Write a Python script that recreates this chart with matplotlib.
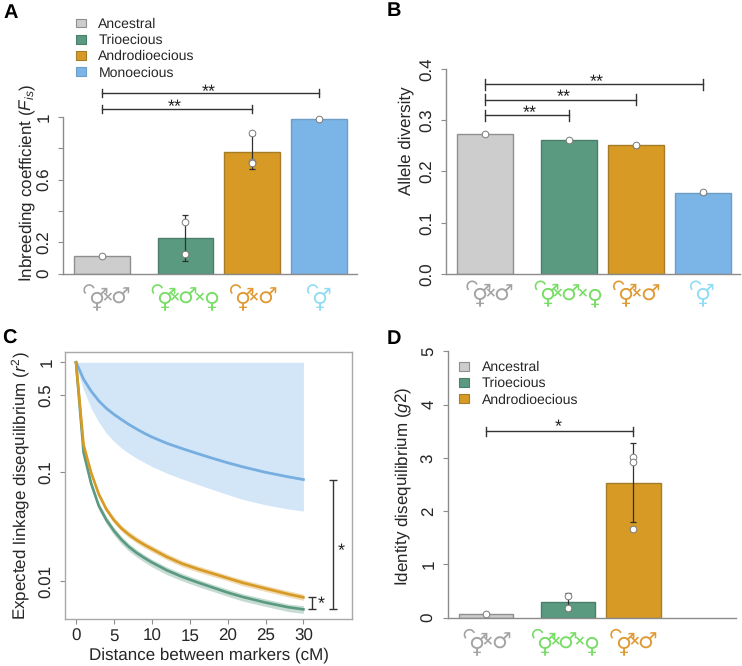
import matplotlib
matplotlib.use('Agg')
import matplotlib.pyplot as plt
from matplotlib.patches import Patch
import numpy as np

plt.rcParams['font.family'] = ['Liberation Sans', 'DejaVu Sans']
plt.rcParams['mathtext.fontset'] = 'custom'
plt.rcParams['mathtext.rm'] = 'Liberation Sans'
plt.rcParams['mathtext.it'] = 'Liberation Sans:italic'
plt.rcParams['text.hinting'] = 'no_hinting'
plt.rcParams['text.hinting_factor'] = 1

W, H = 742, 666

# bar values
groups = ['Ancestral', 'Trioecious', 'Androdioecious', 'Monoecious']
bar_x = [0.7, 2.2, 3.4, 4.6]
fis_means = [0.111, 0.226, 0.774, 0.99]
fis_low = [0.111, 0.083, 0.665, 0.985]
fis_high = [0.111, 0.373, 0.883, 0.995]
fis_points = [[0.111], [0.33, 0.122], [0.895, 0.71, 0.703], [0.99]]
div_means = [0.2725, 0.261, 0.251, 0.159]
div_low = [0.2725, 0.2605, 0.248, 0.157]
div_high = [0.2725, 0.2615, 0.254, 0.161]
div_points = [[0.2725], [0.261], [0.251], [0.16]]
g2_means = [0.069, 0.294, 2.534]
g2_low = [0.069, 0.144, 1.79]
g2_high = [0.069, 0.457, 3.28]
g2_points = [[0.07], [0.407, 0.18], [3.01, 2.92, 1.67]]

# LD decay curves
dist = [0, 0.5, 1, 2, 3, 4, 5, 6, 7, 8, 9, 10, 12, 14, 16, 18, 20, 22, 25, 28, 30]
mono = [1, .84, .70, .545, .445, .38, .335, .30, .27, .246, .225, .208, .182, .163, .147, .133, .121, .111, .099, .090, .085]
mono_lo = [1, .72, .56, .38, .285, .225, .19, .165, .147, .133, .122, .112, .097, .086, .077, .069, .062, .056, .050, .0458, .0438]
mono_hi = [1] * 21
andro = [1, .42, .176, .098, .0625, .0455, .0362, .0304, .0266, .0238, .0216, .0198, .0167, .0145, .0130, .0118, .0107, .0097, .0086, .00765, .00714]
andro_lo = [1, .40, .167, .093, .0590, .0430, .0341, .0286, .0250, .0224, .0203, .0186, .0157, .0136, .0122, .0111, .0101, .0091, .0081, .0072, .0067]
andro_hi = [1, .44, .186, .104, .0665, .0485, .0387, .0325, .0285, .0255, .0231, .0212, .0179, .0155, .0139, .0126, .0114, .0104, .0092, .0082, .00764]
trio = [1, .39, .15, .078, .049, .0365, .029, .024, .0206, .0182, .0164, .0149, .0126, .0110, .0098, .0088, .0079, .0072, .0064, .0058, .00555]
trio_lo = [1, .37, .138, .0715, .045, .0335, .0265, .0219, .0188, .0167, .015, .0136, .0115, .0101, .009, .0081, .0073, .0066, .0059, .0053, .0051]
trio_hi = [1, .41, .158, .083, .0525, .039, .031, .0257, .022, .0195, .0175, .0159, .0135, .0118, .0105, .0094, .0085, .0077, .0069, .0062, .0060]

colors = ['#cdcdcd', '#5a9a81', '#d69a25', '#7bb4e6']
edges = ['#8f8f8f', '#4b7f6b', '#a57c28', '#6d9cc4']
sym_colors = ['#a3a3a3', '#78dd66', '#e09a34', '#90dcf5']
axis_gray = '#8c8c8c'
ink = '#262626'
label_size = 11.9
tick_size = 12.3


def px_axes(fig, left, right, top, bottom):
    return fig.add_axes([left / W, 1 - bottom / H, (right - left) / W, (bottom - top) / H])


def style_axis(ax, yticks, ylabels):
    ax.set_yticks(yticks)
    ax.set_yticklabels(ylabels, rotation=90, va='center', fontsize=tick_size, color=ink)
    ax.tick_params(axis='y', length=3.6, width=0.8, color=axis_gray, pad=4)
    ax.set_xticks([])
    ax.spines['top'].set_visible(False)
    ax.spines['right'].set_visible(False)
    for s in ['left', 'bottom']:
        ax.spines[s].set_color(axis_gray)
        ax.spines[s].set_linewidth(1)


def draw_bars(ax, means, low, high, points):
    for i in range(len(means)):
        ax.bar(bar_x[i], means[i], width=1, color=colors[i], edgecolor=edges[i], linewidth=1, zorder=2)
        ax.errorbar(bar_x[i], means[i], yerr=[[means[i] - low[i]], [high[i] - means[i]]], color='#303030',
                    capsize=2.4, elinewidth=0.9, capthick=0.9, zorder=3)
        ax.plot([bar_x[i]] * len(points[i]), points[i], 'o', ms=4.8, mfc='white', mec='#7a7a7a', mew=0.7,
                clip_on=False, zorder=4)


def bracket(ax, x0, x1, y, cap, stars, star_x, star_y):
    ax.plot([x0, x1], [y, y], color='#333333', lw=1, clip_on=False, zorder=5)
    ax.plot([x0, x0], [y - cap, y + cap], color='#333333', lw=1, clip_on=False, zorder=5)
    ax.plot([x1, x1], [y - cap, y + cap], color='#333333', lw=1, clip_on=False, zorder=5)
    ax.text(star_x, star_y, stars, ha='center', va='center', fontsize=13, color='#222222', clip_on=False)


def add_legend(ax, n, x, y):
    handles = [Patch(facecolor=colors[i], edgecolor=edges[i], linewidth=0.8) for i in range(n)]
    ax.legend(handles, groups[:n], loc='upper left', bbox_to_anchor=(x / W, 1 - y / H),
              bbox_transform=fig.transFigure, frameon=False, fontsize=9.9, borderpad=0, borderaxespad=0,
              handlelength=0.73, handleheight=0.62, handletextpad=0.92, labelspacing=0.23, labelcolor=ink)


fig = plt.figure(figsize=(W / 100, H / 100), dpi=100)

# A
ax_a = px_axes(fig, 62.9, 357, 117, 273.5)
ax_a.set_xlim(0, 5.28)
ax_a.set_ylim(0, 1)
draw_bars(ax_a, fis_means, fis_low, fis_high, fis_points)
style_axis(ax_a, [0, 0.2, 0.4, 0.6, 0.8, 1], ['0', '0.2', '', '0.6', '', '1'])
bracket(ax_a, bar_x[0], bar_x[3], 1.151, 0.026, '**', 2.62, 1.16)
bracket(ax_a, bar_x[0], bar_x[2], 1.053, 0.026, '**', 2.0, 1.06)
add_legend(ax_a, 4, 75.7, 17.7)

# B
ax_b = px_axes(fig, 446.3, 740, 69, 274)
ax_b.set_xlim(0, 5.27)
ax_b.set_ylim(0, 0.4)
draw_bars(ax_b, div_means, div_low, div_high, div_points)
style_axis(ax_b, [0, 0.1, 0.2, 0.3, 0.4], ['0.0', '0.1', '0.2', '0.3', '0.4'])
bracket(ax_b, bar_x[0], bar_x[3], 0.370, 0.0105, '**', 2.7, 0.374)
bracket(ax_b, bar_x[0], bar_x[2], 0.340, 0.0105, '**', 2.1, 0.344)
bracket(ax_b, bar_x[0], bar_x[1], 0.310, 0.0105, '**', 1.5, 0.314)

# C
ax_c = px_axes(fig, 65.3, 351.7, 352.3, 619)
ax_c.set_yscale('log')
ax_c.set_xlim((65.3 - 76) / 7.58, (351.7 - 76) / 7.58)
ax_c.set_ylim(0.00453, 1.234)
ax_c.fill_between(dist, mono_lo, mono_hi, color='#d2e6f8', lw=0)
ax_c.plot(dist, mono, color='#76aee0', lw=2)
ax_c.fill_between(dist, trio_lo, trio_hi, color='#5a9a81', alpha=0.35, lw=0)
ax_c.plot(dist, trio, color='#5a9a81', lw=1.9)
ax_c.fill_between(dist, andro_lo, andro_hi, color='#d69a25', alpha=0.35, lw=0)
ax_c.plot(dist, andro, color='#d69a25', lw=1.9)
ax_c.errorbar(31.2, 0.0063, yerr=[[0.0063 - trio[-1]], [andro[-1] - 0.0063]], color='#333333', capsize=3, elinewidth=1, capthick=1)
ax_c.errorbar(33.9, 0.02, yerr=[[0.02 - trio[-1]], [mono[-1] - 0.02]], color='#333333', capsize=3, elinewidth=1, capthick=1)
ax_c.text(32.4, 0.0061, '*', ha='center', va='center', fontsize=13, color='#222222')
ax_c.text(35.0, 0.0187, '*', ha='center', va='center', fontsize=13, color='#222222')
ax_c.minorticks_off()
ax_c.set_yticks([0.01, 0.1, 0.5, 1])
ax_c.set_yticklabels(['0.01', '0.1', '0.5', '1'], rotation=90, va='center', fontsize=tick_size, color=ink)
ax_c.tick_params(axis='y', which='both', length=3.6, width=0.8, color=axis_gray, pad=4)
ax_c.set_xticks([0, 5, 10, 15, 20, 25, 30])
ax_c.tick_params(axis='x', length=3.6, width=0.8, color=axis_gray, pad=3, labelsize=tick_size, labelcolor=ink)
for s in ax_c.spines.values():
    s.set_color('#a8a8a8')
    s.set_linewidth(1)

# D
ax_d = px_axes(fig, 447.7, 736, 351.3, 617.7)
ax_d.set_xlim(0, 5.28)
ax_d.set_ylim(0, 5)
draw_bars(ax_d, g2_means, g2_low, g2_high, g2_points)
style_axis(ax_d, [0, 1, 2, 3, 4, 5], ['0', '1', '2', '3', '4', '5'])
bracket(ax_d, bar_x[0], bar_x[2], 3.5, 0.085, '*', 2.03, 3.58)
add_legend(ax_d, 3, 459.3, 361)

# overlay in pixel coordinates for labels and symbols
over = fig.add_axes([0, 0, 1, 1], zorder=10)
over.set_xlim(0, W)
over.set_ylim(H, 0)
over.axis('off')
over.patch.set_alpha(0)

for letter, x, y in [('A', 11, 13), ('B', 394, 11), ('C', 9, 339), ('D', 394, 339)]:
    over.text(x, y, letter, fontsize=14.5, fontweight='bold', ha='center', va='center', color='black')

ylabels = [('Inbreeding coefficient ($F_{is}$)', 27, 183),
           ('Allele diversity', 406, 141),
           ('Expected linkage disequilibrium ($r^2$)', 21, 486),
           ('Identity disequilibrium ($g$2)', 403, 486)]
for txt, x, y in ylabels:
    over.text(x, y, txt, rotation=90, ha='center', va='center', fontsize=label_size, color=ink)
over.text(208.5, 655, 'Distance between markers (cM)', ha='center', va='center', fontsize=label_size, color=ink)

herm, male, female, times = '\u26a5', '\u2642', '\u2640', '\u00d7'
# glyph nudges so the rings sit on one line
nudge = {herm: (2, 3.5), male: (2.2, 1), female: (0, 4.5), times: (0, 0)}


def gender_symbols(dx, dy, n):
    y = 297 + dy
    layout = [[(95.7, herm), (106.7, times), (118.3, male)],
              [(164, herm), (174.5, times), (185, male), (199, times), (210.7, female)],
              [(242.3, herm), (253.5, times), (265, male)],
              [(319.3, herm)]]
    for idx, items in enumerate(layout[:n]):
        col = sym_colors[idx]
        for x, ch in items:
            nx, ny = nudge[ch]
            over.text(x + dx + nx, y + ny, ch, family='DejaVu Sans', fontsize=10 if ch == times else 16,
                      ha='center', va='center', color=col, fontweight='bold' if ch == times else 'normal')
        # small loop arrow left of the first symbol
        t = np.radians(np.linspace(30, 215, 30))
        cx, cy = items[0][0] + dx - 6.5, y - 7
        over.plot(cx + 5 * np.cos(t), cy - 5 * np.sin(t), color=col, lw=1.2)


gender_symbols(0, 0, 4)
gender_symbols(383, -3.7, 4)
gender_symbols(380.3, 344.7, 3)

fig.savefig('out.png', dpi=100)
